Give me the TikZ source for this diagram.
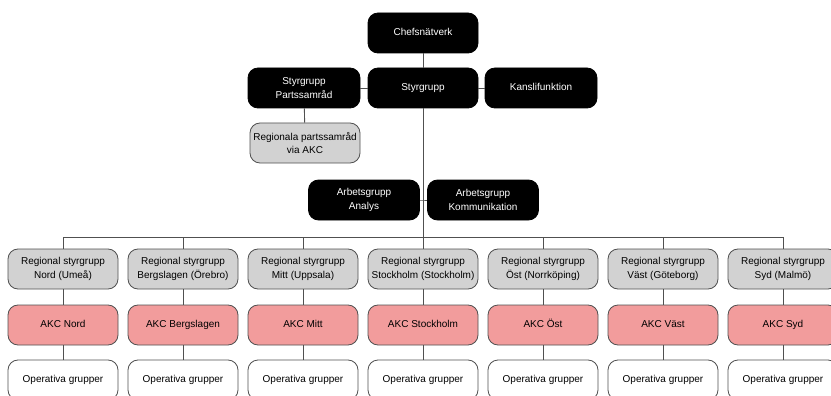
\documentclass[tikz,border=0pt]{standalone}
\usepackage{fontspec}
\setmainfont{Liberation Sans}
\begin{document}
\begin{tikzpicture}[x=1pt,y=-1pt,
  box/.style={rounded corners=10pt,minimum width=110pt,minimum height=40pt,
    inner sep=0pt,align=center,font=\fontsize{10}{13.5}\selectfont,draw=linegray,line width=0.8pt},
  oneline/.style={text height=7.4pt,text depth=2.2pt},
  blackbox/.style={box,fill=black,draw=black,text=white},
  graybox/.style={box,fill=boxgray},
  pinkbox/.style={box,oneline,fill=akcpink},
  whitebox/.style={box,oneline,fill=white},
  link/.style={draw=linegray,line width=0.9pt}]
\definecolor{linegray}{HTML}{505050}
\definecolor{boxgray}{HTML}{D2D2D2}
\definecolor{akcpink}{HTML}{F29C9C}
\clip (0,0) rectangle (831,396);
\fill[white] (0,0) rectangle (831,396);

% top management
\node[blackbox,oneline] (chef) at (423,33) {Chefsnätverk};
\node[blackbox,oneline] (styr) at (423,88) {Styrgrupp};
\node[blackbox,minimum width=112pt] (parts) at (304,88) {Styrgrupp\\Partssamråd};
\node[blackbox,oneline,minimum width=112pt] (kansli) at (541,88) {Kanslifunktion};
\node[graybox] (regparts) at (305,143) {Regionala partssamråd\\via AKC};

% working groups
\node[blackbox,minimum width=111pt] (analys) at (364,200) {Arbetsgrupp\\Analys};
\node[blackbox,minimum width=111pt] (komm) at (483,200) {Arbetsgrupp\\Kommunikation};

\coordinate (bus) at (423,237);
\coordinate (wg) at (423,200);

\draw[link] (chef) -- (styr);
\draw[link] (parts) -- (styr);
\draw[link] (styr) -- (kansli);
\draw[link] (parts) -- (regparts);
\draw[link] (styr) -- (bus);
\draw[link] (analys.east) -- (wg) -- (komm.west);

% regions
\foreach \i/\reg/\akc in {
  0/{Nord (Umeå)}/{Nord},
  1/{Bergslagen (Örebro)}/{Bergslagen},
  2/{Mitt (Uppsala)}/{Mitt},
  3/{Stockholm (Stockholm)}/{Stockholm},
  4/{Öst (Norrköping)}/{Öst},
  5/{Väst (Göteborg)}/{Väst},
  6/{Syd (Malmö)}/{Syd}} {
  \pgfmathsetmacro{\cx}{63+120*\i}
  \node[graybox] (r\i) at (\cx,269) {Regional styrgrupp\\\reg};
  \node[pinkbox] (a\i) at (\cx,325) {AKC \akc};
  \node[whitebox] (o\i) at (\cx,380) {Operativa grupper};
  \coordinate (t\i) at (\cx,237);
  \draw[link] (t\i) -- (r\i);
  \draw[link] (r\i) -- (a\i);
  \draw[link] (a\i) -- (o\i);
}
\draw[link] (t0) -- (t6);
\end{tikzpicture}
\end{document}
